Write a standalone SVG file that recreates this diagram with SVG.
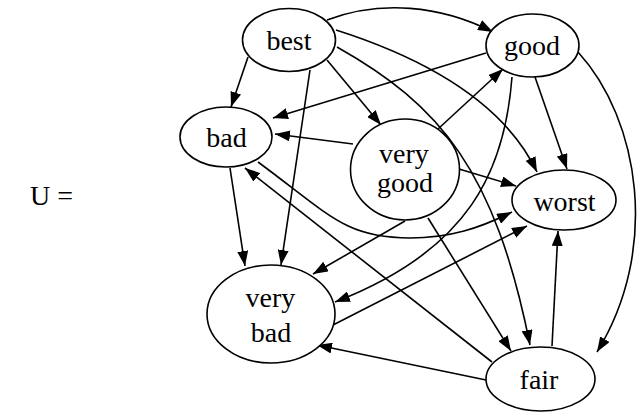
<svg xmlns="http://www.w3.org/2000/svg" width="637" height="412" viewBox="0 0 637 412">
  <style>
    .node ellipse { fill: #ffffff; stroke: #000000; stroke-width: 1.6; }
    .t { font-family: "Liberation Serif", Tinos, "Nimbus Roman", "Noto Serif", "DejaVu Serif", serif; font-size: 28px; fill: #000000; }
    .node text { text-anchor: middle; }
    #edges path { fill: none; stroke: #000000; stroke-width: 1.6; marker-end: url(#arrow); }
  </style>
  <defs>
    <marker id="arrow" markerUnits="userSpaceOnUse" markerWidth="15" markerHeight="11" refX="15" refY="5.5" orient="auto">
      <path d="M0,0 L15,5.5 L0,11 z" fill="#000000"/>
    </marker>
  </defs>

  <text id="label" class="t" x="30" y="205">U =</text>

  <g id="edges">
    <path id="best-good" d="M327,20 C380,0 440,5 493,32"/>
    <path id="best-bad" d="M248,57 L231,107"/>
    <path id="best-verybad" d="M310,70 L281,265"/>
    <path id="best-verygood" d="M327,60 L381,125"/>
    <path id="best-worst" d="M336,30 C430,60 505,105 537,172"/>
    <path id="best-fair" d="M337,47 C440,105 495,170 530,345"/>
    <path id="good-bad" d="M486,53 L273,118"/>
    <path id="verygood-bad" d="M353,144 L275,134"/>
    <path id="verygood-good" d="M438,129 L503,69"/>
    <path id="good-worst" d="M535,77 L567,169"/>
    <path id="good-verybad" d="M512,77 C505,170 470,250 335,302"/>
    <path id="good-fair" d="M578,52 C640,120 660,250 597,352"/>
    <path id="verygood-worst" d="M459,169 L516,186"/>
    <path id="bad-worst" d="M258,162 C330,215 345,238 410,238 C450,238 480,228 512,212"/>
    <path id="verybad-worst" d="M333,325 L527,226"/>
    <path id="verygood-verybad" d="M405,221 L313,274"/>
    <path id="verygood-fair" d="M428,218 L511,351"/>
    <path id="fair-bad" d="M492,362 L245,168"/>
    <path id="fair-verybad" d="M486,380 L317,345"/>
    <path id="fair-worst" d="M552,346 L558,231"/>
    <path id="bad-verybad" d="M230,168 L245,266"/>
  </g>

  <g id="best" class="node">
    <ellipse cx="289" cy="40" rx="46.5" ry="31.5"/>
    <text class="t" x="289" y="50">best</text>
  </g>
  <g id="good" class="node">
    <ellipse cx="532.5" cy="45.5" rx="46.5" ry="31.5"/>
    <text class="t" x="532" y="55">good</text>
  </g>
  <g id="bad" class="node">
    <ellipse cx="226" cy="137" rx="46" ry="30"/>
    <text class="t" x="226.5" y="147">bad</text>
  </g>
  <g id="verygood" class="node">
    <ellipse cx="405" cy="169.5" rx="54.5" ry="50.5"/>
    <text class="t" x="404" y="163">very</text>
    <text class="t" x="405" y="192">good</text>
  </g>
  <g id="worst" class="node">
    <ellipse cx="564" cy="200" rx="52" ry="30"/>
    <text class="t" x="564.5" y="211">worst</text>
  </g>
  <g id="verybad" class="node">
    <ellipse cx="271" cy="314" rx="64" ry="49"/>
    <text class="t" x="270.5" y="307">very</text>
    <text class="t" x="271" y="342">bad</text>
  </g>
  <g id="fair" class="node">
    <ellipse cx="540.5" cy="379" rx="54.5" ry="32"/>
    <text class="t" x="539" y="389">fair</text>
  </g>
</svg>
